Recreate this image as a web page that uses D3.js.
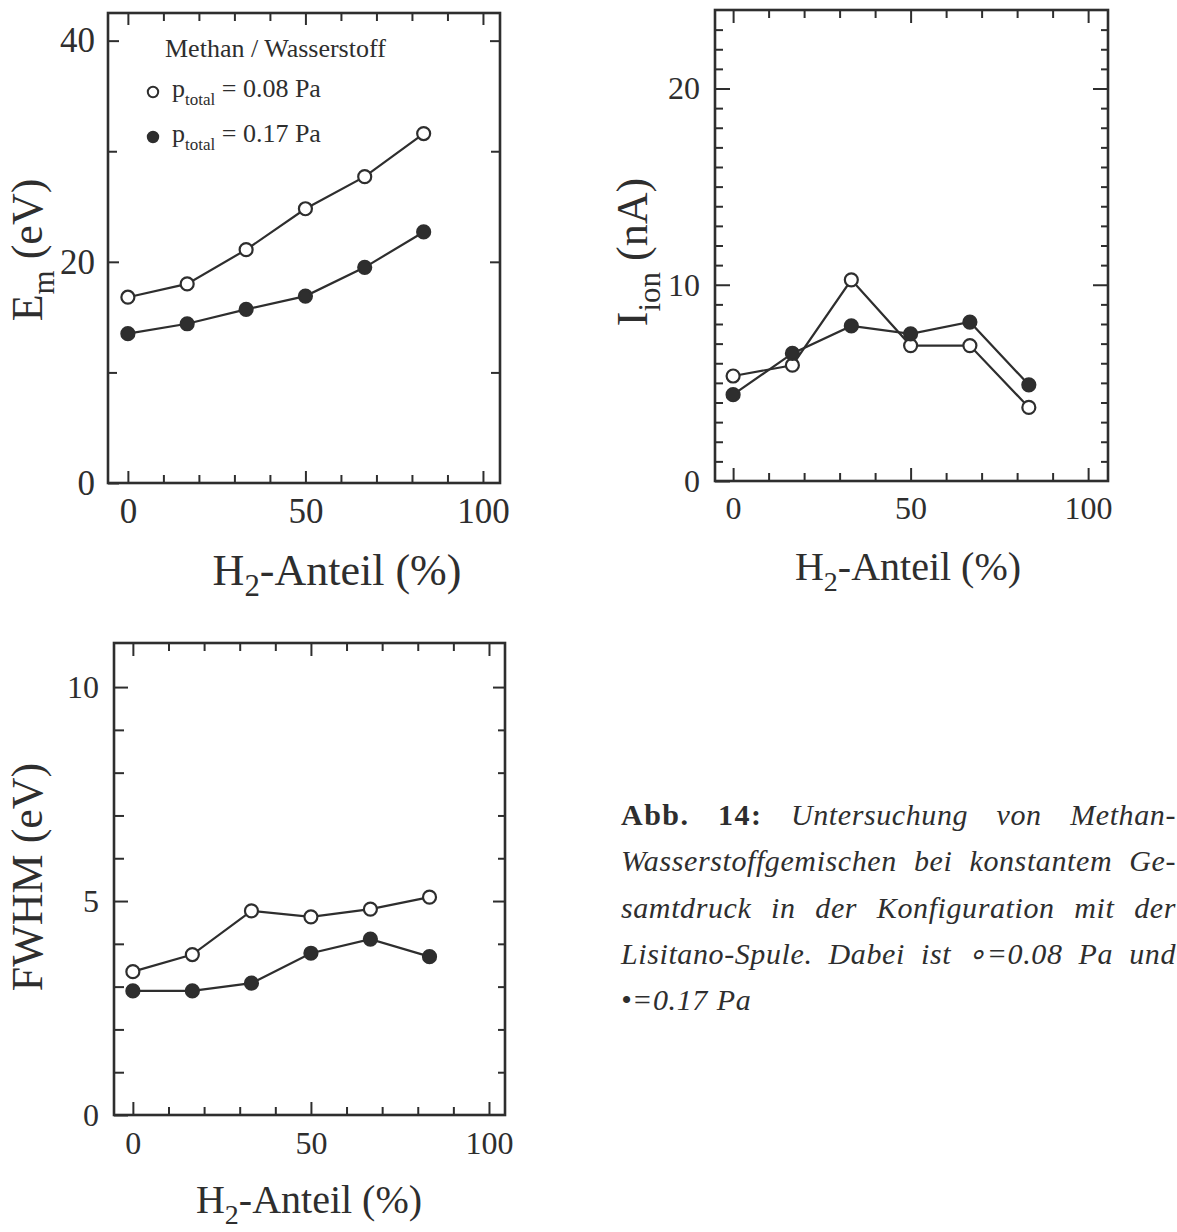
<!DOCTYPE html>
<html>
<head>
<meta charset="utf-8">
<script src="https://cdn.jsdelivr.net/npm/d3@7"></script>
<style>
  html, body { margin: 0; padding: 0; background: #fff; }
  svg { display: block; }
  text { font-family: "Liberation Serif", "Times New Roman", serif; fill: #2e2e2e; }
</style>
</head>
<body>
<svg id="fig" width="1177" height="1232"></svg>
<script>
// H2 share of the methane/hydrogen mixture (%)
const h2Share = [0, 16.7, 33.3, 50, 66.7, 83.3];

// Mean ion energy E_m (eV)
const emLowP  = [16.8, 18.0, 21.1, 24.8, 27.7, 31.6];   // p_total = 0.08 Pa
const emHighP = [13.5, 14.4, 15.7, 16.9, 19.5, 22.7];   // p_total = 0.17 Pa

// Ion current I_ion (nA)
const ionLowP  = [5.35, 5.9, 10.25, 6.9, 6.9, 3.75];
const ionHighP = [4.4, 6.5, 7.9, 7.5, 8.1, 4.9];

// Energy spread FWHM (eV)
const fwhmLowP  = [3.35, 3.75, 4.77, 4.63, 4.81, 5.09];
const fwhmHighP = [2.9, 2.9, 3.08, 3.78, 4.11, 3.7];

// Tick values
const xMajor = [0, 50, 100];
const xMinor = [10, 20, 30, 40, 60, 70, 80, 90];
const emMajor = [0, 20, 40];
const emMinor = [10, 30];
const ionMajor = [0, 10, 20];
const ionMinor = d3.range(1, 24).filter(v => v % 10 !== 0);
const fwhmMajor = [0, 5, 10];
const fwhmMinor = d3.range(1, 11).filter(v => v % 5 !== 0);

const legendTitle = "Methan / Wasserstoff";
const legendLabels = ["= 0.08 Pa", "= 0.17 Pa"];
const xTitle = "-Anteil (%)";

const INK = "#2e2e2e";
const svg = d3.select("#fig");

function panel(cfg) {
  const g = svg.append("g");
  const x = d3.scaleLinear().domain(cfg.xDomain).range([cfg.left, cfg.right]);
  const y = d3.scaleLinear().domain(cfg.yDomain).range([cfg.bottom, cfg.top]);

  const style = sel => {
    sel.select(".domain").remove();
    sel.selectAll(".tick line").attr("stroke", INK).attr("stroke-width", 2);
  };

  // bottom ticks (inward) with labels
  g.append("g").attr("transform", `translate(0,${cfg.bottom})`)
    .call(d3.axisBottom(x).tickValues(xMinor).tickSize(-cfg.xMinorLen).tickFormat(""))
    .call(style);
  const bx = g.append("g").attr("transform", `translate(0,${cfg.bottom})`)
    .call(d3.axisBottom(x).tickValues(xMajor).tickSize(-cfg.xMajorLen).tickFormat(d3.format("d")))
    .call(style);
  bx.selectAll("text").attr("y", cfg.xLabelOffset).attr("dy", null)
    .style("font-size", cfg.tickFont + "px").attr("fill", INK);

  // top ticks (inward)
  g.append("g").attr("transform", `translate(0,${cfg.top})`)
    .call(d3.axisTop(x).tickValues(xMinor).tickSize(-cfg.xMinorLen).tickFormat(""))
    .call(style);
  g.append("g").attr("transform", `translate(0,${cfg.top})`)
    .call(d3.axisTop(x).tickValues(xMajor).tickSize(-cfg.xMajorLen).tickFormat(""))
    .call(style);

  // left ticks with labels
  g.append("g").attr("transform", `translate(${cfg.left},0)`)
    .call(d3.axisLeft(y).tickValues(cfg.yMinor).tickSize(-cfg.yMinorLen).tickFormat(""))
    .call(style);
  const ly = g.append("g").attr("transform", `translate(${cfg.left},0)`)
    .call(d3.axisLeft(y).tickValues(cfg.yMajor).tickSize(-cfg.yMajorLen).tickPadding(cfg.yLabelPad).tickFormat(d3.format("d")))
    .call(style);
  ly.selectAll("text").style("font-size", cfg.tickFont + "px").attr("fill", INK);

  // right ticks
  g.append("g").attr("transform", `translate(${cfg.right},0)`)
    .call(d3.axisRight(y).tickValues(cfg.yMinor).tickSize(-cfg.rMinorLen).tickFormat(""))
    .call(style);
  g.append("g").attr("transform", `translate(${cfg.right},0)`)
    .call(d3.axisRight(y).tickValues(cfg.yMajor.filter(v => v > 0)).tickSize(-cfg.rMajorLen).tickFormat(""))
    .call(style);

  // frame
  g.append("rect")
    .attr("x", cfg.left).attr("y", cfg.top)
    .attr("width", cfg.right - cfg.left).attr("height", cfg.bottom - cfg.top)
    .attr("fill", "none").attr("stroke", INK).attr("stroke-width", 2.6);

  // series: lines first, then markers
  const line = d3.line().x((d, i) => x(h2Share[i])).y(d => y(d));
  cfg.series.forEach(s => {
    g.append("path").datum(s.values).attr("d", line)
      .attr("fill", "none").attr("stroke", INK).attr("stroke-width", 2.2);
  });
  cfg.series.forEach(s => {
    g.selectAll(null).data(s.values).join("circle")
      .attr("cx", (d, i) => x(h2Share[i])).attr("cy", d => y(d)).attr("r", 6.5)
      .attr("fill", s.open ? "#fff" : INK)
      .attr("stroke", INK).attr("stroke-width", 2.2);
  });

  // x title with subscript
  const xt = g.append("text")
    .attr("x", cfg.xTitleX).attr("y", cfg.xTitleY)
    .attr("text-anchor", "middle").style("font-size", cfg.xTitleFont + "px");
  xt.append("tspan").text("H");
  xt.append("tspan").text("2").style("font-size", (cfg.xTitleFont * 0.7) + "px").attr("dy", 11);
  xt.append("tspan").text(xTitle).attr("dy", -11);

  // y title (rotated) with optional subscript
  const yt = g.append("text")
    .attr("transform", `translate(${cfg.yTitleX},${cfg.yTitleY}) rotate(-90)`)
    .attr("text-anchor", "middle").style("font-size", "44px");
  yt.append("tspan").text(cfg.yMain);
  if (cfg.ySub) {
    yt.append("tspan").text(cfg.ySub).style("font-size", "31px").attr("dy", cfg.ySubShift);
    yt.append("tspan").text(cfg.yRest).attr("dy", -cfg.ySubShift);
  } else {
    yt.append("tspan").text(cfg.yRest);
  }
  return { g, x, y };
}

// E_m panel
const p1 = panel({
  left: 108, right: 500, top: 13, bottom: 483,
  xDomain: [-5.6, 104.8], yDomain: [0, 42.5],
  yMajor: emMajor, yMinor: emMinor,
  xMajorLen: 12, xMinorLen: 8, yMajorLen: 11, yMinorLen: 9, rMajorLen: 10, rMinorLen: 9,
  tickFont: 35, xLabelOffset: 40, yLabelPad: 13,
  xTitleX: 337, xTitleY: 585, xTitleFont: 44,
  yTitleX: 42, yTitleY: 250, yMain: "E", ySub: "m", ySubShift: 12, yRest: " (eV)",
  series: [{ values: emLowP, open: true }, { values: emHighP, open: false }]
});

// legend inside the E_m panel
const leg = p1.g.append("g");
leg.append("text").attr("x", 165).attr("y", 57).style("font-size", "26px").text(legendTitle);
legendLabels.forEach((lab, i) => {
  const cy = 92 + i * 45;
  leg.append("circle").attr("cx", 153).attr("cy", cy).attr("r", 5.2)
    .attr("fill", i === 0 ? "#fff" : INK).attr("stroke", INK).attr("stroke-width", 2);
  const t = leg.append("text").attr("x", 172).attr("y", cy + 5).style("font-size", "26px");
  t.append("tspan").text("p");
  t.append("tspan").text("total").style("font-size", "17px").attr("dy", 8);
  t.append("tspan").text(" " + lab).attr("dy", -8);
});

// I_ion panel
panel({
  left: 715, right: 1108, top: 10, bottom: 481,
  xDomain: [-5.1, 105.6], yDomain: [0, 24],
  yMajor: ionMajor, yMinor: ionMinor,
  xMajorLen: 13, xMinorLen: 8, yMajorLen: 15, yMinorLen: 8, rMajorLen: 15, rMinorLen: 7,
  tickFont: 32, xLabelOffset: 38, yLabelPad: 15,
  xTitleX: 908, xTitleY: 580, xTitleFont: 40,
  yTitleX: 647, yTitleY: 252, yMain: "I", ySub: "ion", ySubShift: 13, yRest: " (nA)",
  series: [{ values: ionLowP, open: true }, { values: ionHighP, open: false }]
});

// FWHM panel
panel({
  left: 114, right: 505, top: 643, bottom: 1115,
  xDomain: [-5.3, 104.5], yDomain: [0, 11.03],
  yMajor: fwhmMajor, yMinor: fwhmMinor,
  xMajorLen: 13, xMinorLen: 8, yMajorLen: 14, yMinorLen: 10, rMajorLen: 12, rMinorLen: 7,
  tickFont: 32, xLabelOffset: 39, yLabelPad: 15,
  xTitleX: 309, xTitleY: 1213, xTitleFont: 40,
  yTitleX: 42, yTitleY: 877, yMain: "FWHM (eV)", ySub: null, yRest: "",
  series: [{ values: fwhmLowP, open: true }, { values: fwhmHighP, open: false }]
});

// Figure caption, justified between captionLeft and captionRight
const captionLines = [
  [{ t: "Abb.", b: true }, { t: "14:", b: true }, { t: "Untersuchung" }, { t: "von" }, { t: "Methan-" }],
  [{ t: "Wasserstoffgemischen" }, { t: "bei" }, { t: "konstantem" }, { t: "Ge-" }],
  [{ t: "samtdruck" }, { t: "in" }, { t: "der" }, { t: "Konfiguration" }, { t: "mit" }, { t: "der" }],
  [{ t: "Lisitano-Spule." }, { t: "Dabei" }, { t: "ist" }, { t: "∘=0.08" }, { t: "Pa" }, { t: "und" }],
  [{ t: "•=0.17" }, { t: "Pa" }]
];
const captionLeft = 621, captionRight = 1176, captionTop = 825, captionStep = 46.3;
const cap = svg.append("g");
captionLines.forEach((words, li) => {
  const yb = captionTop + li * captionStep;
  const nodes = words.map(w => cap.append("text")
    .attr("y", yb)
    .style("font-size", "30px")
    .style("font-style", w.b ? "normal" : "italic")
    .style("font-weight", w.b ? "bold" : "normal")
    .style("letter-spacing", w.b ? "1.5px" : "0.6px")
    .text(w.t));
  const widths = nodes.map(n => n.node().getComputedTextLength());
  const total = d3.sum(widths);
  const last = li === captionLines.length - 1;
  const gap = last ? 9 : (captionRight - captionLeft - total) / (words.length - 1);
  let cx = captionLeft;
  nodes.forEach((n, i) => { n.attr("x", cx); cx += widths[i] + gap; });
});
</script>
</body>
</html>
